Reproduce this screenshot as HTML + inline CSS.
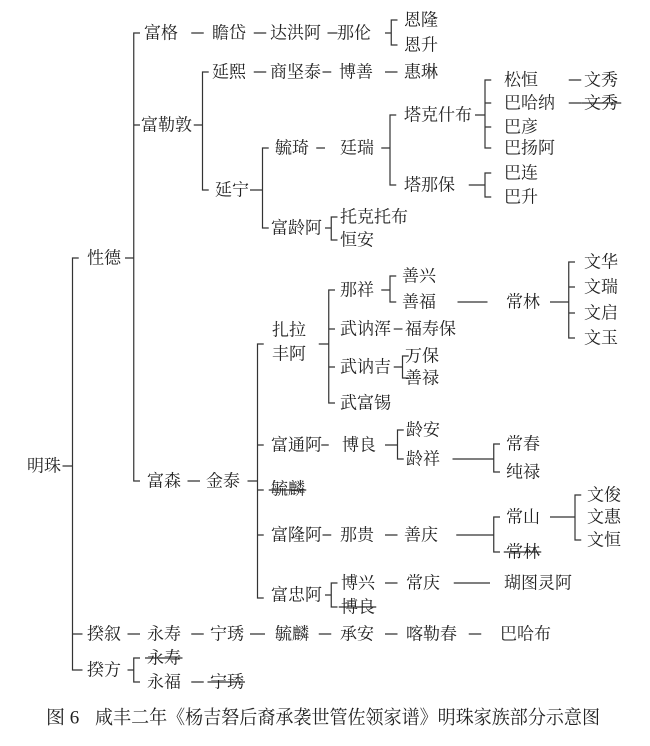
<!DOCTYPE html>
<html><head><meta charset="utf-8"><style>
html,body{margin:0;padding:0;background:#fff;width:650px;height:746px;overflow:hidden}
svg text{font-family:"Liberation Serif","Noto Serif CJK SC",serif;font-size:17px;fill:#222;dominant-baseline:central}
svg path{vector-effect:non-scaling-stroke}
</style></head><body>
<svg width="650" height="746" xmlns="http://www.w3.org/2000/svg">
<g stroke="#333" stroke-width="1.2" fill="none" transform="scale(1.25,1)">
<path d="M50 466H58M63 258H58V670H63M58 634H66M58 670H66"/>
<path d="M100 258H107M112 33H107V481H112M107 125H112"/>
<path d="M153 33H163M203 33H213M262 33H270M308 33H313M318 20H313V45H318"/>
<path d="M155 125H162M167 72H162V190H167"/>
<path d="M203 72H213M258 72H265M308 72H318"/>
<path d="M200 190H210M215 148H210V228H215"/>
<path d="M253 148H260M305 148H312M317 115H312V185H317"/>
<path d="M380 115H388M393 80H388V148H393M388 103H393M388 127H393"/>
<path d="M455 80H465M455 103H465"/>
<path d="M375 185H388M393 173H388V197H393"/>
<path d="M260 228H265M270 217H265V240H270"/>
<path d="M150 481H160M198 481H206M211 344H206V598H211M206 445H211M206 490H211M206 535H211"/>
<path d="M255 344H263M268 290H263V403H268M263 329H268M263 367H268"/>
<path d="M305 290H312M317 276H312V302H317"/>
<path d="M366 302H390M440 302H455M460 262H455V338H460M455 287H460M455 313H460"/>
<path d="M315 329H322"/>
<path d="M315 367H322M327 356H322V378H327"/>
<path d="M257 445H263M308 445H318M323 430H318V459H323M362 459H395M400 444H395V472H400"/>
<path d="M258 535H265M308 535H318M365 535H395M400 517H395V552H400M440 517H460M465 495H460V540H465"/>
<path d="M260 595H265M270 583H265V607H270M308 583H318M363 583H392"/>
<path d="M102 634H112M153 634H163M200 634H212M255 634H265M308 634H318M375 634H385"/>
<path d="M102 670H107M112 658H107V682H112M153 682H163"/>
<path d="M465 103H497M215 490H245M403 552H433M271 607H301M116 658H146M166 682H196"/>
</g>
<g>
<text x="144" y="33">富格</text><text x="212" y="33">瞻岱</text><text x="270" y="33">达洪阿</text><text x="337" y="33">那伦</text>
<text x="404" y="20">恩隆</text><text x="404" y="45">恩升</text>
<text x="141" y="125">富勒敦</text>
<text x="212" y="72">延熙</text><text x="270" y="72">商坚泰</text><text x="339" y="72">博善</text><text x="404" y="72">惠琳</text>
<text x="215" y="190">延宁</text><text x="275" y="148">毓琦</text><text x="340" y="148">廷瑞</text>
<text x="404" y="115">塔克什布</text>
<text x="504" y="80">松恒</text><text x="584" y="80">文秀</text>
<text x="504" y="103">巴哈纳</text><text x="584" y="103">文秀</text>
<text x="504" y="127">巴彦</text><text x="504" y="148">巴扬阿</text>
<text x="404" y="185">塔那保</text><text x="504" y="173">巴连</text><text x="504" y="197">巴升</text>
<text x="271" y="228">富龄阿</text><text x="340" y="217">托克托布</text><text x="340" y="240">恒安</text>
<text x="87" y="258">性德</text>
<text x="27" y="466">明珠</text>
<text x="147" y="481">富森</text><text x="206" y="481">金泰</text>
<text x="272" y="330">扎拉</text><text x="272" y="354">丰阿</text>
<text x="340" y="290">那祥</text><text x="402" y="276">善兴</text><text x="402" y="302">善福</text>
<text x="506" y="302">常林</text>
<text x="584" y="262">文华</text><text x="584" y="287">文瑞</text><text x="584" y="313">文启</text><text x="584" y="338">文玉</text>
<text x="340" y="329">武讷浑</text><text x="405" y="329">福寿保</text>
<text x="340" y="367">武讷吉</text><text x="405" y="356">万保</text><text x="405" y="378">善禄</text>
<text x="340" y="403">武富锡</text>
<text x="271" y="445">富通阿</text><text x="342" y="445">博良</text>
<text x="406" y="430">龄安</text><text x="406" y="459">龄祥</text>
<text x="506" y="444">常春</text><text x="506" y="472">纯禄</text>
<text x="271" y="489">毓麟</text>
<text x="271" y="535">富隆阿</text><text x="340" y="535">那贵</text><text x="404" y="535">善庆</text>
<text x="506" y="517">常山</text><text x="506" y="552">常林</text>
<text x="587" y="495">文俊</text><text x="587" y="517">文惠</text><text x="587" y="540">文恒</text>
<text x="271" y="595">富忠阿</text><text x="341" y="583">博兴</text><text x="406" y="583">常庆</text><text x="504" y="583">瑚图灵阿</text>
<text x="341" y="607">博良</text>
<text x="87" y="634">揆叙</text><text x="147" y="634">永寿</text><text x="210" y="634">宁琇</text><text x="275" y="634">毓麟</text>
<text x="340" y="634">承安</text><text x="406" y="634">喀勒春</text><text x="500" y="634">巴哈布</text>
<text x="87" y="670">揆方</text><text x="147" y="658">永寿</text><text x="147" y="682">永福</text><text x="210" y="682">宁琇</text>
<text x="46" y="718" style="font-size:19px">图 6</text>
<text x="95" y="718" style="font-size:19px" textLength="505" lengthAdjust="spacingAndGlyphs">咸丰二年《杨吉砮后裔承袭世管佐领家谱》明珠家族部分示意图</text>
</g>
</svg>
</body></html>
